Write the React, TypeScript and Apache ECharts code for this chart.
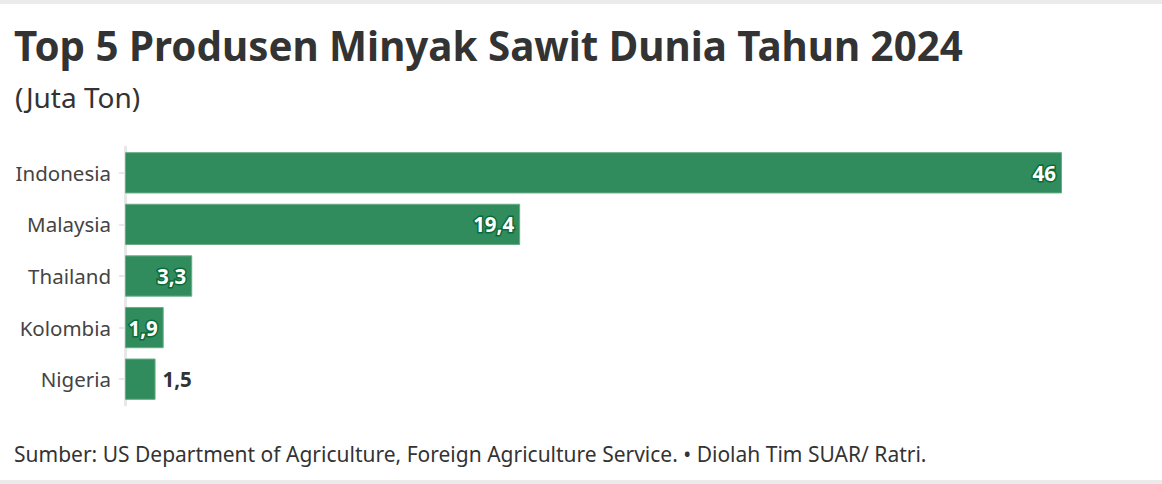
import React, { useEffect, useRef } from "react";
import * as echarts from "echarts";

const categories = ["Indonesia", "Malaysia", "Thailand", "Kolombia", "Nigeria"];
const values = [46, 19.4, 3.3, 1.9, 1.5];
const insideLabel = [true, true, true, true, false];

const TITLE = "Top 5 Produsen Minyak Sawit Dunia Tahun 2024";
const SUBTITLE = "(Juta Ton)";
const SOURCE = "Sumber: US Department of Agriculture, Foreign Agriculture Service. • Diolah Tim SUAR/ Ratri.";

const FONT = "'Noto Sans', 'Open Sans', sans-serif";

export default function App() {
  const ref = useRef<HTMLDivElement>(null);
  useEffect(() => {
    if (!ref.current) return;
    const chart = echarts.init(ref.current, null, { renderer: "svg" });
    const fmt = (v: number) => String(v).replace(".", ",");
    chart.setOption({
      animation: false,
      backgroundColor: "#ffffff",
      textStyle: { fontFamily: FONT },
      title: [
        {
          text: TITLE,
          left: 9,
          top: 20,
          textStyle: { fontFamily: FONT, fontSize: 40.3, fontWeight: "bold", color: "#333333" },
        },
        {
          text: SUBTITLE,
          left: 10,
          top: 78,
          textStyle: { fontFamily: FONT, fontSize: 28, fontWeight: "normal", color: "#333333" },
        },
        {
          text: SOURCE,
          left: 9,
          top: 438,
          textStyle: { fontFamily: FONT, fontSize: 21, fontWeight: "normal", color: "#333333" },
        },
      ],
      graphic: [
        { type: "rect", left: 0, top: 0, shape: { width: 1162, height: 4 }, style: { fill: "#ebebeb" } },
        { type: "rect", left: 0, top: 480, shape: { width: 1162, height: 4 }, style: { fill: "#ebebeb" } },
      ],
      grid: { left: 125, right: 100, top: 147, height: 258 },
      xAxis: {
        type: "value",
        min: 0,
        max: 46,
        show: false,
      },
      yAxis: {
        type: "category",
        inverse: true,
        data: categories,
        axisLine: { show: true, lineStyle: { color: "#e8e8e8", width: 3 } },
        axisTick: { show: true, alignWithLabel: true, length: 6, lineStyle: { color: "#e8e8e8", width: 2 } },
        axisLabel: { fontFamily: FONT, fontSize: 20.5, color: "#444444", margin: 14 },
        splitLine: { show: false },
      },
      series: [
        {
          type: "bar",
          barCategoryGap: "20%",
          data: values.map((v, i) => ({
            value: v,
            label: insideLabel[i]
              ? {
                  show: true,
                  position: "insideRight",
                  distance: 6,
                  color: "#ffffff",
                  textBorderColor: "#0b6a3a",
                  textBorderWidth: 3,
                }
              : {
                  show: true,
                  position: "right",
                  distance: 7,
                  color: "#333333",
                  textBorderWidth: 0,
                },
          })),
          itemStyle: { color: "#318c5d", borderColor: "#66ad86", borderWidth: 1 },
          label: {
            fontFamily: FONT,
            fontSize: 20.5,
            fontWeight: "bold",
            formatter: (p: any) => fmt(p.value),
          },
        },
      ],
    });
    return () => chart.dispose();
  }, []);
  return (
    <div
      ref={ref}
      style={{ position: "fixed", left: 0, top: 0, width: 1162, height: 484 }}
    />
  );
}
